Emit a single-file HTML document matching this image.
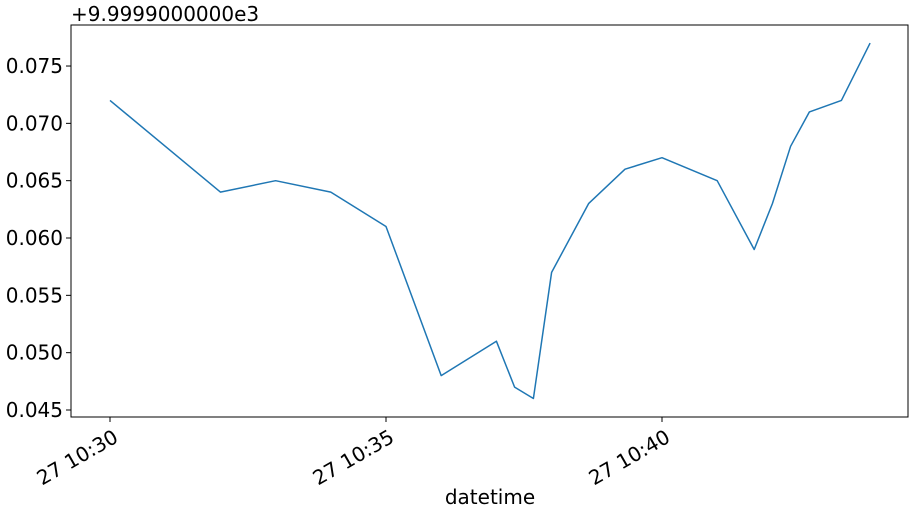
<!DOCTYPE html>
<html><head><meta charset="utf-8"><style>
html,body{margin:0;padding:0;background:#fff;}
svg{display:block;font-family:"DejaVu Sans","Liberation Sans",sans-serif;}
</style></head><body>
<svg id="chart" width="915" height="515" viewBox="0 0 915 515" xmlns="http://www.w3.org/2000/svg">
<rect x="0" y="0" width="915" height="515" fill="#fff"/>
<g id="plot"></g>
</svg>
<script>
const minutes = [0,2,3,4,5,6,7,7.33,7.67,8,8.67,9.33,10,11,11.67,12,12.33,12.67,13.25,13.77];
const values = [0.072,0.064,0.065,0.064,0.061,0.048,0.051,0.047,0.046,0.057,0.063,0.066,0.067,0.065,0.059,0.063,0.068,0.071,0.072,0.077];
const yTicks = [0.045,0.050,0.055,0.060,0.065,0.070,0.075];
const xTickMinutes = [0,5,10];
const xTickLabels = ["27 10:30","27 10:35","27 10:40"];

const L=71,R=908,T=25,B=417;
const xs = m => 110 + m*55.2;
const ys = v => 410 - (v-0.045)/0.005*57.33;
const NS="http://www.w3.org/2000/svg";
const g=document.getElementById('plot');
function mk(tag,attrs,parent){const e=document.createElementNS(NS,tag);for(const k in attrs)e.setAttribute(k,attrs[k]);(parent||g).appendChild(e);return e;}

const frame=mk('rect',{x:L,y:T,width:R-L,height:B-T,fill:'none',stroke:'#000','stroke-width':1});



yTicks.forEach(v=>{
  const y=ys(v);
  const t=mk('line',{x1:L-5,x2:L,y1:y,y2:y,stroke:'#000'});
  
  
  const tx=mk('text',{x:L-8,y:y+7,'text-anchor':'end','font-size':20,fill:'#000'});
  tx.textContent=v.toFixed(3);
  
  
});

xTickMinutes.forEach((m,i)=>{
  const x=xs(m);
  const t=mk('line',{x1:x,x2:x,y1:B,y2:B+5,stroke:'#000'});
  
  
  const ay=B+11;
  const tx=mk('text',{x:x+2,y:ay,'text-anchor':'end','font-size':20,fill:'#000',transform:`rotate(-30 ${x+2} ${ay})`,dy:'0.75em'});
  tx.textContent=xTickLabels[i];
  
  
});

const pts=minutes.map((m,i)=>xs(m).toFixed(1)+','+ys(values[i]).toFixed(1)).join(' ');
const line=mk('polyline',{points:pts,fill:'none',stroke:'#1f77b4','stroke-width':1.5,'stroke-linejoin':'round'});



const off=mk('text',{x:71,y:21,'font-size':20,fill:'#000'});
off.textContent='+9.9999000000e3';



const xl=mk('text',{x:490,y:504,'text-anchor':'middle','font-size':20,fill:'#000'});
xl.textContent='datetime';


</script>
</body></html>
